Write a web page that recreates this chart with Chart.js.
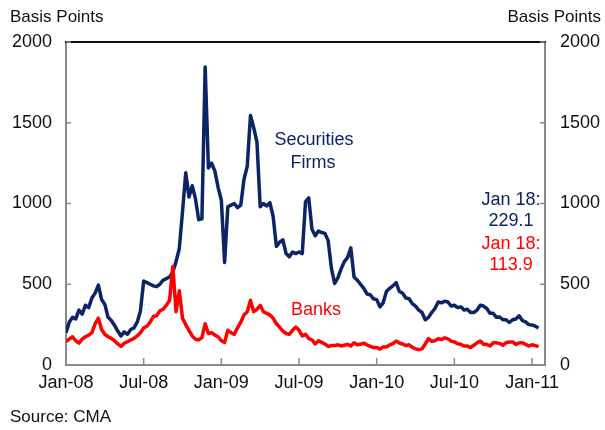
<!DOCTYPE html>
<html>
<head>
<meta charset="utf-8">
<script src="https://cdn.jsdelivr.net/npm/chart.js@4.4.1/dist/chart.umd.min.js"></script>
<style>
html, body { margin: 0; padding: 0; background: #fff; }
#wrap { width: 605px; height: 430px; position: relative; }
</style>
</head>
<body>
<div id="wrap"><canvas id="myChart"></canvas></div>
<script>
// months since Jan-08, weekly-ish steps
var stepMonths = 0.25;
var xTicks = [0, 6, 12, 18, 24, 30, 36];
var xLabels = ['Jan-08', 'Jul-08', 'Jan-09', 'Jul-09', 'Jan-10', 'Jul-10', 'Jan-11'];
var yTicks = [0, 500, 1000, 1500, 2000];

var securities = [
    200, 265, 295, 285, 340, 315, 370, 355,
    415, 445, 495, 405, 375, 295, 275, 245,
    210, 180, 205, 190, 220, 230, 265, 335,
    520, 510, 500, 490, 485, 500, 525, 535,
    545, 575, 640, 720, 950, 1190, 1040, 1110,
    1030, 900, 905, 1845, 1220, 1250, 1200, 1100,
    1020, 635, 980, 990, 1000, 975, 990, 1150,
    1230, 1545, 1470, 1380, 980, 1000, 985, 1005,
    920, 735, 760, 775, 690, 670, 700, 690,
    700, 690, 1010, 1035, 840, 800, 830, 820,
    815, 770, 600, 505, 540, 595, 640, 665,
    725, 545, 525, 500, 475, 440, 435, 410,
    405, 360, 385, 455, 475, 490, 510, 455,
    445, 415, 410, 380, 365, 340, 325, 280,
    295, 325, 350, 390, 385, 395, 390, 365,
    370, 355, 360, 340, 345, 325, 325, 340,
    370, 365, 350, 320, 320, 295, 297, 280,
    280, 263, 280, 285, 305, 275, 267, 250,
    248, 240, 229.1
];

var banks = [
    145, 160, 175, 150, 135, 160, 175, 185,
    200, 255, 290, 220, 190, 175, 165, 150,
    130, 115, 135, 145, 155, 165, 180, 200,
    230, 240, 265, 300, 305, 335, 345, 370,
    400, 610, 330, 460, 290, 250, 215, 180,
    160, 155, 170, 255, 195, 200, 185, 175,
    150, 140, 215, 200, 190, 230, 265, 310,
    330, 400, 330, 345, 370, 330, 320, 310,
    290, 255, 235, 210, 195, 190, 215, 235,
    215, 180, 190, 165, 155, 130, 150, 140,
    130, 115, 120, 120, 125, 118, 122, 128,
    118, 138, 126, 128, 136, 124, 116, 108,
    108, 98, 112, 112, 124, 132, 148, 136,
    130, 120, 125, 110, 100, 95, 100, 130,
    163, 147, 150, 162, 158, 168, 162, 148,
    143, 132, 128, 118, 117, 108, 122, 137,
    148, 128, 128, 118, 137, 137, 133, 122,
    138, 142, 143, 127, 137, 138, 128, 118,
    125, 120, 113.9
];

var NAVY = '#0c2466';
var RED = '#ff0000';
var AXIS = '#8a8a8a';
var FONT = "'Liberation Sans', Arial, sans-serif";

function toPoints(arr) {
    return arr.map(function (v, i) { return { x: i * stepMonths, y: v }; });
}

var extras = {
    id: 'extras',
    afterDraw: function (chart) {
        var ctx = chart.ctx;
        var a = chart.chartArea;
        var sx = chart.scales.x, sy = chart.scales.y;
        ctx.save();
        // top frame line
        ctx.strokeStyle = '#111';
        ctx.lineWidth = 2;
        ctx.beginPath();
        ctx.moveTo(a.left - 1, a.top);
        ctx.lineTo(a.right + 1, a.top);
        ctx.stroke();
        // inward tick marks
        ctx.strokeStyle = AXIS;
        ctx.lineWidth = 1.5;
        ctx.beginPath();
        yTicks.forEach(function (v) {
            var py = sy.getPixelForValue(v);
            ctx.moveTo(a.left, py); ctx.lineTo(a.left + 5, py);
            ctx.moveTo(a.right, py); ctx.lineTo(a.right - 5, py);
        });
        xTicks.forEach(function (v) {
            var px = sx.getPixelForValue(v);
            ctx.moveTo(px, a.bottom); ctx.lineTo(px, a.bottom - 7);
        });
        ctx.stroke();

        ctx.textBaseline = 'middle';
        ctx.fillStyle = '#111';
        ctx.font = '17px ' + FONT;
        ctx.textAlign = 'left';
        ctx.fillText('Basis Points', 10, 17);
        ctx.fillText('Source: CMA', 10, 417);
        ctx.textAlign = 'right';
        ctx.fillText('Basis Points', 601, 17);

        ctx.font = '18px ' + FONT;
        ctx.textAlign = 'center';
        ctx.fillStyle = NAVY;
        ctx.fillText('Securities', 314, 140);
        ctx.fillText('Firms', 313, 163);
        ctx.fillText('Jan 18:', 511, 200);
        ctx.fillText('229.1', 511, 221);
        ctx.fillStyle = RED;
        ctx.fillText('Jan 18:', 511, 244);
        ctx.fillText('113.9', 511, 265);
        ctx.fillText('Banks', 316, 310);
        ctx.restore();
    }
};

function onSight() {
    var ctx = document.getElementById('myChart').getContext('2d');
    var tickFont = { family: FONT, size: 18 };
    var plain = function (v) { return String(v); };

    new Chart(ctx, {
        type: 'line',
        data: {
            datasets: [{
                label: 'Banks',
                data: toPoints(banks),
                borderColor: RED,
                borderWidth: 3.5,
                pointRadius: 0,
                tension: 0,
                borderJoinStyle: 'round',
                yAxisID: 'y'
            }, {
                label: 'Securities Firms',
                data: toPoints(securities),
                borderColor: NAVY,
                borderWidth: 3.5,
                pointRadius: 0,
                tension: 0,
                borderJoinStyle: 'round',
                yAxisID: 'y'
            }]
        },
        options: {
            responsive: true,
            maintainAspectRatio: false,
            animation: false,
            layout: { padding: { top: 42, left: 0, right: 0, bottom: 0 } },
            plugins: {
                legend: { display: false },
                tooltip: { enabled: false }
            },
            scales: {
                x: {
                    type: 'linear',
                    min: 0,
                    max: 37,
                    grid: { display: false, drawTicks: false },
                    border: { display: true, color: AXIS, width: 2 },
                    afterBuildTicks: function (s) { s.ticks = xTicks.map(function (v) { return { value: v }; }); },
                    afterFit: function (s) { s.height = 65; },
                    ticks: {
                        font: tickFont,
                        color: '#111',
                        padding: 7,
                        maxRotation: 0,
                        autoSkip: false,
                        callback: function (v) { return xLabels[xTicks.indexOf(v)]; }
                    }
                },
                y: {
                    position: 'left',
                    min: 0,
                    max: 2000,
                    grid: { display: false, drawTicks: false },
                    border: { display: true, color: AXIS, width: 2 },
                    afterBuildTicks: function (s) { s.ticks = yTicks.map(function (v) { return { value: v }; }); },
                    afterFit: function (s) { s.width = 66; },
                    ticks: { font: tickFont, color: '#111', padding: 14, callback: plain }
                },
                y2: {
                    position: 'right',
                    min: 0,
                    max: 2000,
                    grid: { display: false, drawTicks: false },
                    border: { display: true, color: AXIS, width: 2 },
                    afterBuildTicks: function (s) { s.ticks = yTicks.map(function (v) { return { value: v }; }); },
                    afterFit: function (s) { s.width = 60; },
                    ticks: { font: tickFont, color: '#111', padding: 15, callback: plain }
                }
            }
        },
        plugins: [extras]
    });
}

document.addEventListener('DOMContentLoaded', onSight);
</script>
</body>
</html>
